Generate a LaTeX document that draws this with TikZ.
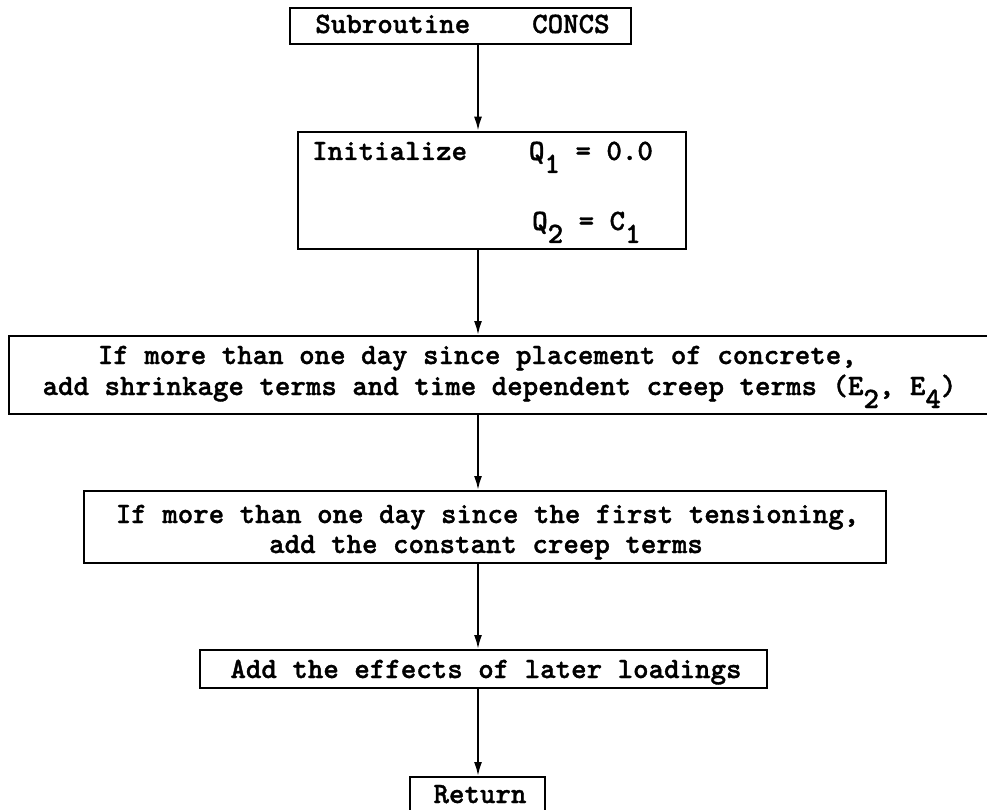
\documentclass[tikz,border=0pt]{standalone}
\usepackage{fontspec}
\usetikzlibrary{arrows.meta}
% bold typewriter face for all flowchart text
\newfontfamily\tw{lmmonolt10-bold.otf}[FakeBold=1.2]
% lowered digit used as a subscript, one character cell wide
\newcommand\lowd[1]{\raisebox{-13pt}{#1}}
\begin{document}
\begin{tikzpicture}[x=1pt,y=-1pt,
  box/.style={draw,line width=2pt,rectangle,inner sep=0pt},
  txt/.style={anchor=base,inner sep=0pt,font=\tw\fontsize{29.5}{34}\selectfont},
  txtw/.style={anchor=base west,inner sep=0pt,font=\tw\fontsize{29.5}{34}\selectfont},
  flow/.style={line width=2pt,-{Latex[length=14pt,width=8pt]}}]
\useasboundingbox (0,0) rectangle (987,810);
\fill[white] (0,0) rectangle (987,810);
\coordinate (spine) at (478,0);

% boxes
\node[box,minimum width=341.8pt,minimum height=36.2pt] (b1) at (460.5,25.8) {};
\node[box,minimum width=388.2pt,minimum height=117.3pt] (b2) at (491.9,190.35) {};
\node[box,minimum width=980.6pt,minimum height=78pt] (b3) at (499.7,375) {};
\node[box,minimum width=802.3pt,minimum height=72pt] (b4) at (484.85,527) {};
\node[box,minimum width=567pt,minimum height=38pt] (b5) at (483.5,669) {};
\node[box,minimum width=135pt,minimum height=39pt] (b6) at (477.5,796.5) {};

% texts
\node[txt] (t1) at (462.5,33) {Subroutine\ \ \ \ CONCS};
\node[txtw] (t2a) at (312,160) {Initialize\ \ \ \ Q\lowd{1} = 0.0};
\node[txtw] (t2b) at (532,230) {Q\lowd{2} = C\lowd{1}};
\node[txt] (t3a) at (477.3,364) {If more than one day since placement of concrete,};
\node[txt] (t3b) at (499.5,395) {add shrinkage terms and time dependent creep terms (E\lowd{2}, E\lowd{4})};
\node[txt] (t4a) at (487.5,523) {If more than one day since the first tensioning,};
\node[txt] (t4b) at (486,553) {add the constant creep terms};
\node[txt] (t5) at (486,678) {Add the effects of later loadings};
\node[txt] (t6) at (480,803) {Return};

% connectors
\draw[flow] (b1.south -| spine) -- (b2.north -| spine);
\draw[flow] (b2.south -| spine) -- (b3.north -| spine);
\draw[flow] (b3.south -| spine) -- (b4.north -| spine);
\draw[flow] (b4.south -| spine) -- (b5.north -| spine);
\draw[flow] (b5.south -| spine) -- (b6.north -| spine);
\end{tikzpicture}
\end{document}
